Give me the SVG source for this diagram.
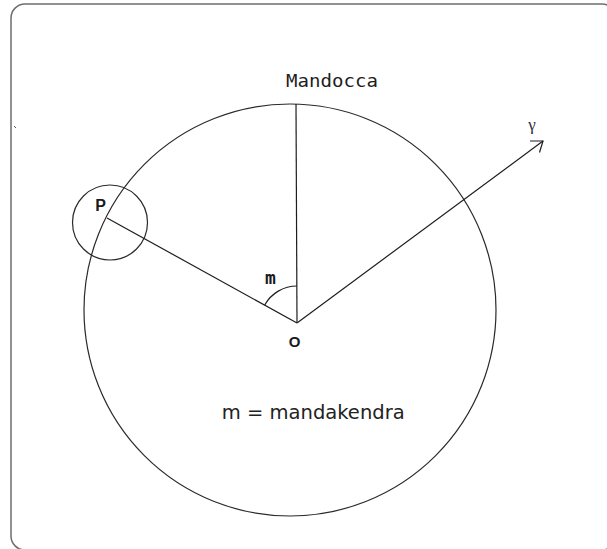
<svg xmlns="http://www.w3.org/2000/svg" width="607" height="549" viewBox="0 0 607 549">
<style>
.frame{fill:#fff;stroke:#6e6e6e;stroke-width:1.5}
.ln{fill:none;stroke:#1e1e1e;stroke-width:1.2}
.circ{fill:none;stroke:#2a2a2a;stroke-width:1.2}
.mono{font-family:"DejaVu Sans Mono","Liberation Mono",monospace;fill:#1e1e1e}
.lbl{font-family:"Liberation Sans","DejaVu Sans",sans-serif;font-weight:bold;fill:#1a1a1a}
.lblm{font-family:"DejaVu Sans Mono","Liberation Mono",monospace;font-weight:bold;fill:#1a1a1a}
.sans{font-family:"DejaVu Sans","Liberation Sans",sans-serif;fill:#222}
.greek{font-family:"Liberation Serif","DejaVu Serif",serif;fill:#2e3040}
</style>
<rect x="0" y="0" width="607" height="549" fill="#fff"/>
<rect class="frame" x="11" y="4" width="605" height="546" rx="14" ry="14"/>
<line x1="14" y1="126" x2="16" y2="128" stroke="#555" stroke-width="1"/>
<g id="deferent">
<circle class="circ" cx="290" cy="310" r="206"/>
</g>
<g id="epicycle">
<circle class="circ" cx="110" cy="222.5" r="37.5"/>
<text class="lbl" x="100.5" y="210.7" font-size="16" text-anchor="middle">P</text>
</g>
<g id="mandocca">
<text class="mono" x="286" y="87" font-size="17" textLength="92" lengthAdjust="spacingAndGlyphs">Mandocca</text>
</g>
<g id="center-O">
<text class="lbl" x="294.7" y="346.7" font-size="15" text-anchor="middle">O</text>
</g>
<g id="gamma">
<text class="greek" x="532" y="130" font-size="17" text-anchor="middle">γ</text>
</g>
<g id="angle-m">
<path class="ln" d="M264.7,305 A37,37 0 0 1 297,286"/>
<text class="lblm" x="270.3" y="284.3" font-size="18" text-anchor="middle">m</text>
</g>
<g id="connectors">
<line class="ln" x1="296" y1="104" x2="297" y2="323"/>
<line class="ln" x1="297" y1="323" x2="107" y2="218"/>
<line class="ln" x1="297" y1="323" x2="543" y2="141"/>
<polyline class="ln" points="530,141 543,141 539.5,152.5"/>
</g>
<g id="legend">
<text class="sans" x="221.7" y="419.3" font-size="19.5" textLength="183" lengthAdjust="spacingAndGlyphs">m = mandakendra</text>
</g>
</svg>
